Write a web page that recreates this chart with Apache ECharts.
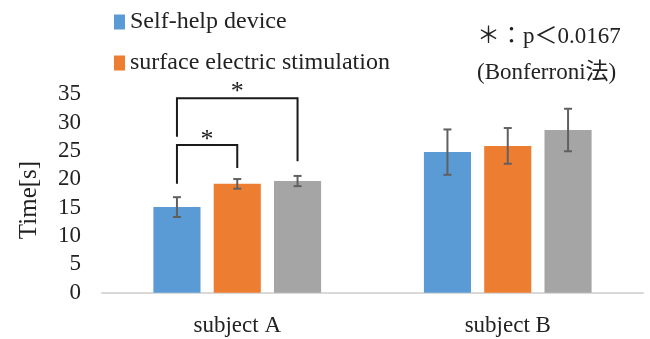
<!DOCTYPE html>
<html>
<head>
<meta charset="utf-8">
<script src="https://cdn.jsdelivr.net/npm/echarts@6/dist/echarts.min.js"></script>
<style>
html,body{margin:0;padding:0;background:#fff;}
#chart{width:650px;height:339px;}
</style>
</head>
<body>
<div id="chart"></div>
<script>
// ---- data ----
const categories = ['subject A', 'subject B'];
const seriesNames = ['Self-help device', 'surface electric stimulation', 'condition 3'];
const selfHelp = [15.1, 24.8];
const selfHelpErr = [1.75, 4.0];
const electric = [19.2, 25.9];
const electricErr = [0.85, 3.15];
const third = [19.7, 28.7];
const thirdErr = [0.9, 3.75];
const yTicks = [0, 5, 10, 15, 20, 25, 30, 35];
// significance brackets: [category, fromBar, toBar, level, fromLegEnd, toLegEnd, starLevel]
const bracketA1 = [0, 0, 1, 26.05, 19.2, 22.0, 27.8];
const bracketA2 = [0, 0, 2, 34.3, 27.5, 23.2, 36.2];
const noteLine1 = '＊：p＜0.0167';
const noteLine2 = '(Bonferroni法)';

const colors = ['#5B9BD5', '#ED7D31', '#A5A5A5'];
const CAT_GAP = 0.38, BAR_GAP = 0.28, NBARS = 3;
const FONT = '"Liberation Serif", "Times New Roman", "Noto Sans CJK JP", serif';

function barOffset(api, idx) {
  const band = api.size([1, 0])[0];
  const barsW = band * (1 - CAT_GAP);
  const bw = barsW / (NBARS + (NBARS - 1) * BAR_GAP);
  return -barsW / 2 + bw / 2 + idx * bw * (1 + BAR_GAP);
}

const errData = [];
[[selfHelp, selfHelpErr], [electric, electricErr], [third, thirdErr]].forEach((pair, s) => {
  pair[0].forEach((v, c) => errData.push([c, v, pair[1][c], s]));
});

const chart = echarts.init(document.getElementById('chart'), null, {renderer: 'canvas'});
const option = {
  animation: false,
  backgroundColor: '#fff',
  textStyle: {fontFamily: FONT},
  grid: {left: 102, right: 7, top: 94.3, bottom: 46.3, containLabel: false},
  legend: {
    data: seriesNames.slice(0, 2),
    orient: 'vertical',
    left: 109, top: 5,
    itemWidth: 11, itemHeight: 15, itemGap: 17,
    icon: 'rect',
    textStyle: {fontFamily: FONT, fontSize: 24, color: '#222'}
  },
  xAxis: {
    type: 'category',
    data: categories,
    axisLine: {lineStyle: {color: '#d9d9d9', width: 2}},
    axisTick: {show: false},
    axisLabel: {fontFamily: FONT, fontSize: 23, color: '#222', margin: 22}
  },
  yAxis: {
    type: 'value',
    min: yTicks[0], max: yTicks[yTicks.length - 1], interval: yTicks[1] - yTicks[0],
    name: 'Time[s]',
    nameLocation: 'middle',
    nameGap: 60,
    nameTextStyle: {fontFamily: FONT, fontSize: 25, color: '#222', padding: [0, 13, 0, 0]},
    axisLine: {show: false},
    axisTick: {show: false},
    splitLine: {show: false},
    axisLabel: {fontFamily: FONT, fontSize: 23, color: '#222', margin: 21}
  },
  series: [
    {name: seriesNames[0], type: 'bar', data: selfHelp, itemStyle: {color: colors[0]}, barGap: (BAR_GAP * 100) + '%', barCategoryGap: (CAT_GAP * 100) + '%'},
    {name: seriesNames[1], type: 'bar', data: electric, itemStyle: {color: colors[1]}},
    {name: seriesNames[2], type: 'bar', data: third, itemStyle: {color: colors[2]}},
    {
      type: 'custom', name: 'err', z: 5,
      data: errData,
      encode: {x: 0, y: 1},
      renderItem: function (params, api) {
        const c = api.value(0), v = api.value(1), e = api.value(2), s = api.value(3);
        const x = api.coord([c, v])[0] + barOffset(api, s);
        const yHi = api.coord([c, v + e])[1];
        const yLo = api.coord([c, v - e])[1];
        const cap = 4;
        const st = {stroke: '#606060', lineWidth: 2};
        return {type: 'group', children: [
          {type: 'line', shape: {x1: x, y1: yHi, x2: x, y2: yLo}, style: st},
          {type: 'line', shape: {x1: x - cap, y1: yHi, x2: x + cap, y2: yHi}, style: st},
          {type: 'line', shape: {x1: x - cap, y1: yLo, x2: x + cap, y2: yLo}, style: st}
        ]};
      }
    },
    {
      type: 'custom', name: 'sig', z: 6, clip: false,
      data: [bracketA1, bracketA2],
      encode: {x: 0, y: 3},
      renderItem: function (params, api) {
        const c = api.value(0), a = api.value(1), b = api.value(2);
        const lvl = api.value(3), la = api.value(4), lb = api.value(5), sl = api.value(6);
        const cx = api.coord([c, lvl])[0];
        const xa = cx + barOffset(api, a), xb = cx + barOffset(api, b);
        const y = api.coord([c, lvl])[1];
        const ya = api.coord([c, la])[1], yb = api.coord([c, lb])[1];
        const ys = api.coord([c, sl])[1];
        const st = {stroke: '#1a1a1a', lineWidth: 2, fill: null};
        return {type: 'group', children: [
          {type: 'polyline', shape: {points: [[xa, ya], [xa, y], [xb, y], [xb, yb]]}, style: st},
          {type: 'text', style: {text: '*', x: (xa + xb) / 2, y: ys + 5, align: 'center', verticalAlign: 'middle',
            fontFamily: FONT, fontSize: 26, fill: '#1a1a1a'}}
        ]};
      }
    }
  ],
  graphic: [
    {type: 'text', left: 477, top: 25, style: {text: noteLine1, fontFamily: FONT, fontSize: 23, fill: '#222'}},
    {type: 'text', left: 477, top: 61, style: {text: noteLine2, fontFamily: FONT, fontSize: 23, fill: '#222'}}
  ]
};
chart.setOption(option);
</script>
</body>
</html>
